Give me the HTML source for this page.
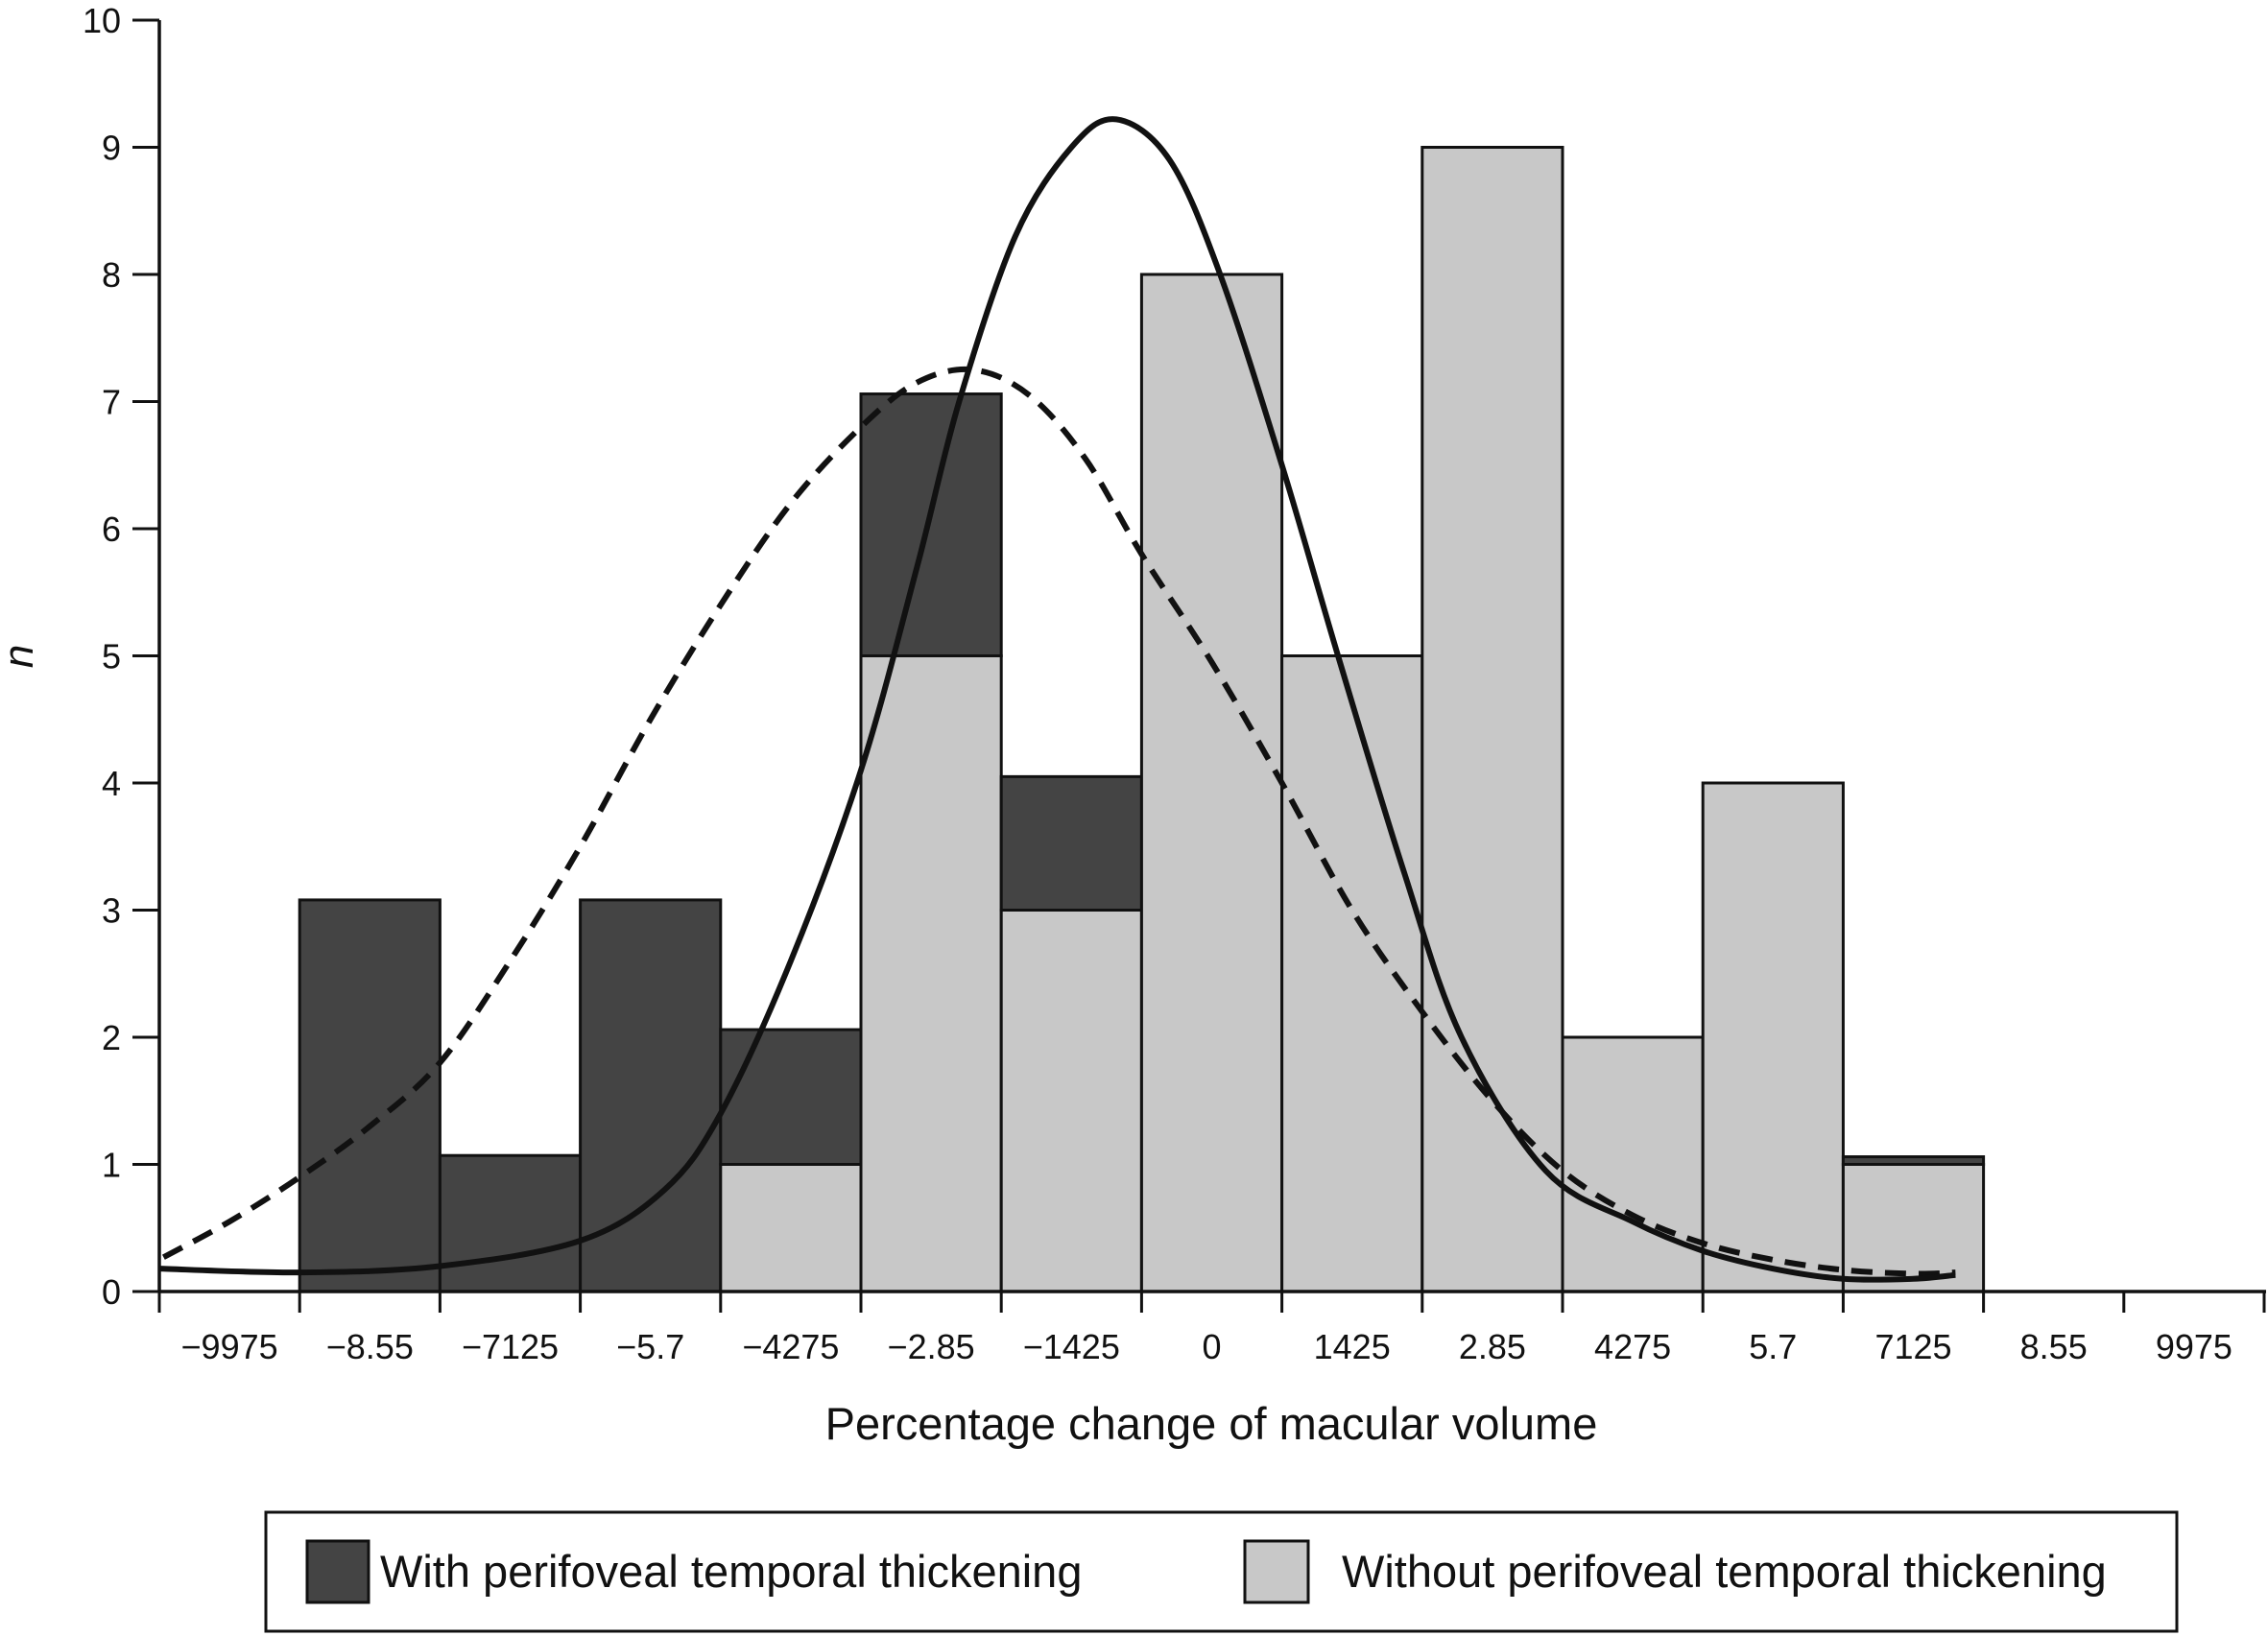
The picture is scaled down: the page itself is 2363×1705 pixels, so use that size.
<!DOCTYPE html>
<html><head><meta charset="utf-8"><style>
html,body{margin:0;padding:0;background:#fff;}
svg{display:block;font-family:"Liberation Sans",Arial,sans-serif;}
</style></head><body>
<svg id="chart" width="2363" height="1705" viewBox="0 0 2363 1705">
<g id="bars"></g>
<g id="curves"></g>
<g id="axes"></g>
<text x="1262" y="1500" font-size="47" text-anchor="middle" fill="#111">Percentage change of macular volume</text>
<text x="34" y="684" font-size="44" font-style="italic" text-anchor="middle" fill="#111" transform="rotate(-90 34 684)">n</text>
<g>
<rect x="277" y="1576" width="1991" height="124" fill="#fff" stroke="#111" stroke-width="3"/>
<rect x="320" y="1606" width="64" height="64" fill="#444" stroke="#111" stroke-width="3"/>
<text x="396" y="1654" font-size="47" fill="#111">With perifoveal temporal thickening</text>
<rect x="1297" y="1606" width="66" height="64" fill="#c8c8c8" stroke="#111" stroke-width="3"/>
<text x="1398" y="1654" font-size="47" fill="#111">Without perifoveal temporal thickening</text>
</g>
</svg>
<script>
const xTickLabels=["\u22129975","\u22128.55","\u22127125","\u22125.7","\u22124275","\u22122.85","\u22121425","0","1425","2.85","4275","5.7","7125","8.55","9975"];
const yTickLabels=[0,1,2,3,4,5,6,7,8,9,10];
const binIndex=[1,2,3,4,5,6,7,8,9,10,11,12];
const withoutCounts=[0,0,0,1,5,3,8,5,9,2,4,1];
const withCounts=[3.08,1.07,3.08,1.06,2.06,1.05,0,0,0,0,0,0.06];
const solidX=[0,1,2,3,3.6,4,4.5,5,5.4,5.7,6.1,6.5,6.82,7.2,7.56,8,8.4,8.87,9.28,9.88,10.5,11,11.5,12,12.5,12.8];
const solidY=[0.18,0.15,0.2,0.4,0.8,1.4,2.6,4.1,5.7,7,8.3,9.0,9.22,8.9,8,6.5,5,3.3,2,0.95,0.55,0.32,0.18,0.1,0.1,0.13];
const dashX=[0.03,0.5,1,1.5,2,2.5,3,3.5,4,4.5,5,5.4,5.8,6.2,6.6,7,7.5,8,8.5,9,9.5,10,10.5,11,11.5,12,12.5,12.8];
const dashY=[0.27,0.55,0.9,1.3,1.8,2.6,3.5,4.5,5.4,6.2,6.8,7.15,7.25,7.05,6.55,5.8,4.95,4.0,3.0,2.2,1.5,0.95,0.6,0.38,0.25,0.17,0.14,0.15];
const NS="http://www.w3.org/2000/svg";
const X0=166,DX=146.2,Y0=1346,DY=132.5;
function xs(i){return X0+i*DX;}
function ys(v){return Y0-v*DY;}
function mk(tag,attrs,parent){const e=document.createElementNS(NS,tag);for(const k in attrs)e.setAttribute(k,attrs[k]);parent.appendChild(e);return e;}
const bars=document.getElementById('bars');
binIndex.forEach((b,i)=>{
  const lw=withoutCounts[i], dk=withCounts[i];
  if(lw>0){const r=mk('rect',{x:xs(b),y:ys(lw),width:DX,height:ys(0)-ys(lw),fill:'#c8c8c8',stroke:'#111','stroke-width':3},bars);
    
    }
  if(dk>0){const r=mk('rect',{x:xs(b),y:ys(lw+dk),width:DX,height:ys(lw)-ys(lw+dk),fill:'#444',stroke:'#111','stroke-width':3},bars);
    
    }
});
function smooth(px,py){
  const p=px.map((x,i)=>[xs(x),ys(py[i])]);
  let d='M'+p[0][0]+','+p[0][1];
  for(let i=0;i<p.length-1;i++){
    const a=p[Math.max(0,i-1)],b=p[i],c=p[i+1],e=p[Math.min(p.length-1,i+2)];
    const c1=[b[0]+(c[0]-a[0])/6,b[1]+(c[1]-a[1])/6],c2=[c[0]-(e[0]-b[0])/6,c[1]-(e[1]-b[1])/6];
    d+=' C'+c1[0]+','+c1[1]+' '+c2[0]+','+c2[1]+' '+c[0]+','+c[1];
  }
  return d;
}
const curves=document.getElementById('curves');
const dl=mk('path',{d:smooth(dashX,dashY),fill:'none',stroke:'#111','stroke-width':6,'stroke-dasharray':'22,13'},curves);


const sl=mk('path',{d:smooth(solidX,solidY),fill:'none',stroke:'#111','stroke-width':6},curves);


const axes=document.getElementById('axes');
const ya=mk('line',{x1:X0,y1:ys(10),x2:X0,y2:Y0,stroke:'#111','stroke-width':3.5},axes);


const xa=mk('line',{x1:X0,y1:Y0,x2:xs(15)+2,y2:Y0,stroke:'#111','stroke-width':3.5},axes);


yTickLabels.forEach(v=>{
  const t=mk('line',{x1:X0-28,y1:ys(v),x2:X0,y2:ys(v),stroke:'#111','stroke-width':3},axes);
  
  
  const l=mk('text',{x:X0-40,y:ys(v)+13,'font-size':36,'text-anchor':'end',fill:'#111'},axes);
  l.textContent=v;
  
  
});
for(let i=0;i<=15;i++){
  const t=mk('line',{x1:xs(i),y1:Y0,x2:xs(i),y2:Y0+22,stroke:'#111','stroke-width':3},axes);
  
  
}
xTickLabels.forEach((s,i)=>{
  const l=mk('text',{x:xs(i+0.5),y:Y0+70,'font-size':36,'text-anchor':'middle',fill:'#111'},axes);
  l.textContent=s;
  
  
});
</script>
</body></html>
